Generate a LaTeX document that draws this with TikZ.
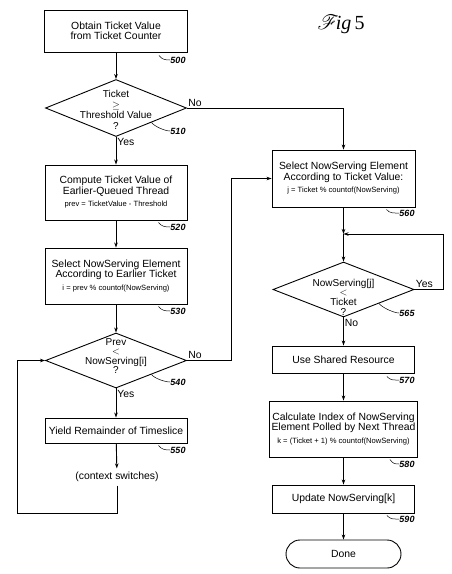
\documentclass[tikz,border=0pt]{standalone}
\usepackage{fontspec}
\setmainfont{Liberation Sans}
\newfontfamily\figfont{Liberation Serif}
\usepackage{mathrsfs}
\usetikzlibrary{shapes.geometric, arrows.meta, calc}
\newcommand{\formtext}[1]{{\fontsize{7.6}{9}\selectfont #1}}

\begin{document}
\begin{tikzpicture}[x=1pt, y=-1pt, line width=0.9pt,
every node/.style={font=\fontsize{10.4}{10.5}\selectfont},
block/.style={draw, rectangle, align=center, minimum width=142pt, inner sep=2pt},
decision/.style={draw, diamond, minimum width=141pt, minimum height=56pt, inner sep=0pt},
decq/.style={align=center, inner sep=0pt},
terminal/.style={draw, rectangle, rounded corners=14pt, minimum width=115pt, minimum height=28pt},
lbl/.style={inner sep=1pt},
refno/.style={font=\fontsize{9}{10}\selectfont\bfseries\itshape, inner sep=0pt},
lead/.style={line width=0.5pt},
arr/.style={-{Stealth[length=5pt, width=3.5pt]}}]
\useasboundingbox (0,0) rectangle (451,574);
% left column
\node[block, minimum width=143pt, minimum height=42pt] (obtain) at (116,31) {Obtain Ticket Value\\from Ticket Counter};
\node[decision, minimum height=57pt] (check) at (116,108) {};
\node[decq, font=\fontsize{10}{10.6}\selectfont] (checkq) at (116,110) {Ticket\\$\geq$\\Threshold Value\\?};
\node[block, minimum height=55pt] (compute) at (116,192.5) {Compute Ticket Value of\\Earlier-Queued Thread\\[2pt]\formtext{prev = TicketValue - Threshold}};
\node[block, minimum height=56pt] (earlier) at (116,276) {Select NowServing Element\\According to Earlier Ticket\\[2pt]\formtext{i = prev \% countof(NowServing)}};
\node[decision, minimum height=55pt] (cmp) at (116,360.5) {};
\node[decq, font=\fontsize{10}{9.4}\selectfont] (cmpq) at (116,356) {Prev\\$<$\\NowServing[i]\\?};
\node[block, minimum height=25pt] (yield) at (116,430.5) {Yield Remainder of Timeslice};
\node (ctx) at (117,477) {(context switches)};
\coordinate (bypass) at (231,360.5);
\coordinate (retry) at (17,513);
% right column
\node[block, minimum width=143pt, minimum height=57pt] (select) at (343.5,178.5) {Select NowServing Element\\According to Ticket Value:\\[2pt]\formtext{j = Ticket \% countof(NowServing)}};
\coordinate (join) at (343.5,234);
\node[decision, minimum height=55pt] (poll) at (343.5,289.5) {};
\node[decq, font=\fontsize{10}{9.6}\selectfont] (pollq) at (343.5,297) {NowServing[j]\\$<$\\Ticket\\?};
\coordinate (spin) at (443,289.5);
\node[block, minimum height=27pt] (use) at (343.5,359.5) {Use Shared Resource};
\node[block, minimum height=56pt] (index) at (343.5,429) {Calculate Index of NowServing\\Element Polled by Next Thread\\[2pt]\formtext{k = (Ticket + 1) \% countof(NowServing)}};
\node[block, minimum height=28pt] (update) at (343.5,499) {Update NowServing[k]};
\node[terminal] (done) at (343.5,554) {Done};
\node[font=\fontsize{20}{20}\selectfont] (fig) at (341,24) {$\mathscr{F}$\kern-3pt\figfont\itshape ig\,\upshape 5};
% connectors
\draw[arr] (obtain.south) -- (check.north);
\draw[arr] (check.east) node[lbl, anchor=south west] (no1) {No} -| (select.north);
\draw[arr] (check.south) node[lbl, anchor=north west] (yes1) {Yes} -- (compute.north);
\draw[arr] (compute) -- (earlier);
\draw[arr] (earlier.south) -- (cmp.north);
\draw[arr] (cmp.east) node[lbl, anchor=south west] (no2) {No} -- (bypass) |- (select.west);
\draw[arr] (cmp.south) node[lbl, anchor=north west] (yes2) {Yes} -- (yield.north);
\draw[arr] (yield) -- (ctx);
\draw[arr] (ctx.south) |- (retry) |- (cmp.west);
\draw[arr] (select) -- (join);
\draw[arr] (join) -- (poll.north);
\draw[arr] (poll.east) node[lbl, anchor=south west] (yes3) {Yes} -- (spin) |- (join);
\draw[arr] (poll.south) node[lbl, anchor=north west] (no3) {No} -- (use.north);
\draw[arr] (use) -- (index);
\draw[arr] (index) -- (update);
\draw[arr] (update) -- (done);
% reference numbers
\node[refno] (n500) at (178,60) {500};
\node[refno] (n510) at (178,131) {510};
\node[refno] (n520) at (178,227) {520};
\node[refno] (n530) at (178,311) {530};
\node[refno] (n540) at (178,382) {540};
\node[refno] (n550) at (178,450) {550};
\node[refno] (n560) at (407,213) {560};
\node[refno] (n565) at (407,313) {565};
\node[refno] (n570) at (407,380) {570};
\node[refno] (n580) at (407,464) {580};
\node[refno] (n590) at (407,519) {590};
\draw[lead] ($(obtain.south east)+(-29,3)$) .. controls +(3,4) and +(-5,0) .. (n500.west);
\draw[lead] (check.south east) .. controls +(3,4) and +(-5,0) .. (n510.west);
\draw[lead] ($(compute.south east)+(-29,2)$) .. controls +(3,4) and +(-5,0) .. (n520.west);
\draw[lead] ($(earlier.south east)+(-29,2)$) .. controls +(3,4) and +(-5,0) .. (n530.west);
\draw[lead] (cmp.south east) .. controls +(3,4) and +(-5,0) .. (n540.west);
\draw[lead] ($(yield.south east)+(-29,2)$) .. controls +(3,4) and +(-5,0) .. (n550.west);
\draw[lead] ($(select.south east)+(-29,2)$) .. controls +(3,4) and +(-5,0) .. (n560.west);
\draw[lead] (poll.south east) .. controls +(3,4) and +(-5,0) .. (n565.west);
\draw[lead] ($(use.south east)+(-28,3)$) .. controls +(3,4) and +(-5,0) .. (n570.west);
\draw[lead] ($(index.south east)+(-28,2)$) .. controls +(3,4) and +(-5,0) .. (n580.west);
\draw[lead] ($(update.south east)+(-28,2)$) .. controls +(3,4) and +(-5,0) .. (n590.west);
\end{tikzpicture}
\end{document}
